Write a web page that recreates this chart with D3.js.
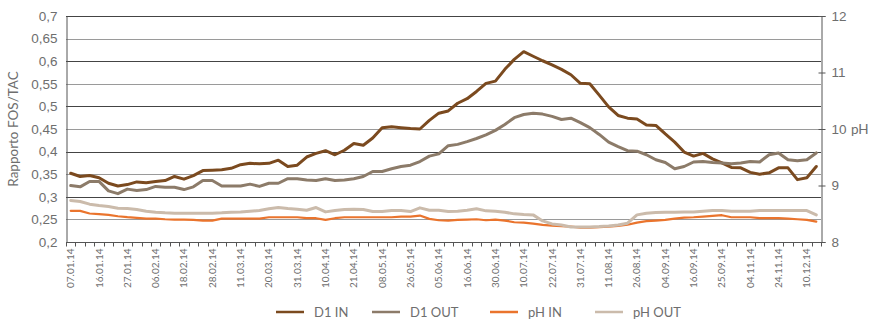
<!DOCTYPE html>
<html>
<head>
<meta charset="utf-8">
<script src="https://cdn.jsdelivr.net/npm/d3@7"></script>
<style>
  html, body { margin: 0; padding: 0; background: #ffffff; }
  svg { display: block; font-family: Lato, "Open Sans", sans-serif; }
</style>
</head>
<body>
<svg id="chart" width="869" height="320"></svg>
<script>
// Sampling dates shown on the category axis (one label every third sample)
const tickLabels = [
  "07.01.14", "16.01.14", "27.01.14", "06.02.14", "18.02.14", "28.02.14",
  "11.03.14", "20.03.14", "31.03.14", "10.04.14", "21.04.14", "08.05.14",
  "26.05.14", "05.06.14", "16.06.14", "30.06.14", "10.07.14", "22.07.14",
  "31.07.14", "11.08.14", "26.08.14", "04.09.14", "16.09.14", "25.09.14",
  "04.11.14", "24.11.14", "10.12.14"
];
const labelEvery = 3;

// FOS/TAC ratio, digester 1 inlet
const d1In = [
  0.352, 0.345, 0.347, 0.342, 0.330, 0.324, 0.327, 0.333, 0.331, 0.334,
  0.336, 0.345, 0.339, 0.347, 0.358, 0.359, 0.360, 0.363, 0.371, 0.374,
  0.373, 0.374, 0.381, 0.367, 0.370, 0.388, 0.396, 0.402, 0.393, 0.403,
  0.418, 0.414, 0.430, 0.453, 0.455, 0.453, 0.451, 0.450, 0.469, 0.485,
  0.490, 0.507, 0.517, 0.533, 0.551, 0.556, 0.582, 0.604, 0.621, 0.611,
  0.601, 0.592, 0.582, 0.570, 0.551, 0.550, 0.525, 0.499, 0.480, 0.474,
  0.472, 0.459, 0.458, 0.439, 0.421, 0.399, 0.390, 0.396, 0.384, 0.375,
  0.365, 0.364, 0.354, 0.350, 0.353, 0.364, 0.364, 0.338, 0.342, 0.367
];

// FOS/TAC ratio, digester 1 outlet
const d1Out = [
  0.325, 0.322, 0.334, 0.334, 0.313, 0.307, 0.317, 0.314, 0.316, 0.323,
  0.321, 0.321, 0.316, 0.322, 0.336, 0.336, 0.324, 0.324, 0.324, 0.328,
  0.323, 0.330, 0.330, 0.340, 0.340, 0.337, 0.336, 0.340, 0.336, 0.337,
  0.340, 0.345, 0.356, 0.356, 0.362, 0.367, 0.370, 0.378, 0.390, 0.395,
  0.413, 0.416, 0.422, 0.429, 0.437, 0.447, 0.460, 0.475, 0.482, 0.485,
  0.483, 0.478, 0.471, 0.474, 0.464, 0.453, 0.438, 0.421, 0.411, 0.402,
  0.401, 0.393, 0.382, 0.376, 0.362, 0.367, 0.377, 0.378, 0.376, 0.375,
  0.373, 0.375, 0.378, 0.377, 0.393, 0.397, 0.382, 0.380, 0.382, 0.397
];

// pH, inlet
const phIn = [
  8.551, 8.551, 8.504, 8.492, 8.480, 8.456, 8.439, 8.427, 8.415, 8.415,
  8.403, 8.397, 8.397, 8.391, 8.379, 8.379, 8.415, 8.415, 8.415, 8.412,
  8.415, 8.438, 8.438, 8.438, 8.438, 8.421, 8.421, 8.391, 8.421, 8.438,
  8.438, 8.438, 8.438, 8.438, 8.438, 8.450, 8.450, 8.468, 8.409, 8.385,
  8.379, 8.391, 8.397, 8.403, 8.385, 8.397, 8.379, 8.350, 8.344, 8.326,
  8.302, 8.290, 8.279, 8.273, 8.255, 8.255, 8.261, 8.273, 8.284, 8.305,
  8.344, 8.368, 8.379, 8.391, 8.415, 8.433, 8.438, 8.450, 8.462, 8.474,
  8.438, 8.438, 8.438, 8.421, 8.421, 8.421, 8.415, 8.403, 8.391, 8.361
];

// pH, outlet
const phOut = [
  8.735, 8.717, 8.670, 8.646, 8.628, 8.598, 8.593, 8.575, 8.545, 8.527,
  8.516, 8.510, 8.510, 8.510, 8.510, 8.510, 8.516, 8.527, 8.533, 8.545,
  8.557, 8.587, 8.610, 8.593, 8.581, 8.563, 8.610, 8.533, 8.557, 8.575,
  8.581, 8.575, 8.539, 8.539, 8.557, 8.557, 8.539, 8.604, 8.563, 8.560,
  8.539, 8.545, 8.563, 8.587, 8.551, 8.545, 8.527, 8.498, 8.486, 8.480,
  8.373, 8.320, 8.302, 8.267, 8.267, 8.267, 8.273, 8.284, 8.302, 8.332,
  8.480, 8.510, 8.521, 8.527, 8.527, 8.533, 8.533, 8.545, 8.557, 8.557,
  8.545, 8.545, 8.545, 8.557, 8.557, 8.557, 8.557, 8.557, 8.557, 8.480
];

const leftTicks = [0.2, 0.25, 0.3, 0.35, 0.4, 0.45, 0.5, 0.55, 0.6, 0.65, 0.7];
const rightTicks = [8, 9, 10, 11, 12];

const series = [
  { name: "D1 IN",  values: d1In,  axis: "left",  color: "#7b4a1f", width: 3 },
  { name: "D1 OUT", values: d1Out, axis: "left",  color: "#8c7b69", width: 3 },
  { name: "pH IN",  values: phIn,  axis: "right", color: "#ea742d", width: 2.2 },
  { name: "pH OUT", values: phOut, axis: "right", color: "#cbbbab", width: 3 }
];

const svg = d3.select("#chart");
const plot = { left: 66, right: 821, top: 16, bottom: 242 };
const textColor = "#6e6e6e";
const itCommaFmt = v => d3.format(".2~f")(v).replace(".", ",");

const idx = d3.range(d1In.length);
const x = d3.scaleBand().domain(idx).range([plot.left, plot.right]).padding(0);
const cx = i => x(i) + x.bandwidth() / 2;
const yL = d3.scaleLinear().domain([0.2, 0.7]).range([plot.bottom, plot.top]);
const yR = d3.scaleLinear().domain([8, 12]).range([plot.bottom, plot.top]);

// Horizontal gridlines
svg.append("g")
  .selectAll("line")
  .data(leftTicks.slice(1))
  .join("line")
  .attr("x1", plot.left).attr("x2", plot.right)
  .attr("y1", d => Math.round(yL(d)) + 0.5)
  .attr("y2", d => Math.round(yL(d)) + 0.5)
  .attr("stroke", (d, i) => i % 2 === 0 ? "#9a9a9a" : "#444444")
  .attr("stroke-width", 1);

// Left axis
const leftAxis = d3.axisLeft(yL).tickValues(leftTicks).tickSize(0).tickPadding(9)
  .tickFormat(itCommaFmt);
const gL = svg.append("g").attr("transform", `translate(${plot.left + 0.5},0)`).call(leftAxis);
gL.select(".domain").attr("stroke", "#555555");
gL.selectAll("text").attr("fill", textColor).style("font-size", "13.5px");

// Right axis
const rightAxis = d3.axisRight(yR).tickValues(rightTicks).tickSize(4).tickPadding(6)
  .tickFormat(d3.format("d"));
const gR = svg.append("g").attr("transform", `translate(${plot.right + 0.5},0)`).call(rightAxis);
gR.select(".domain").attr("stroke", "#555555");
gR.selectAll(".tick line").attr("stroke", "#555555").attr("x1", -3);
gR.selectAll("text").attr("fill", textColor).style("font-size", "13.5px");

// Bottom category axis
const gB = svg.append("g").attr("transform", `translate(0,${plot.bottom + 0.5})`);
gB.append("line").attr("x1", plot.left).attr("x2", plot.right + 1)
  .attr("stroke", "#555555");
gB.selectAll("line.tick")
  .data(d3.range(idx.length + 1))
  .join("line")
  .attr("class", "tick")
  .attr("x1", d => Math.round(x.step() * d + plot.left) + 0.5)
  .attr("x2", d => Math.round(x.step() * d + plot.left) + 0.5)
  .attr("y1", 0).attr("y2", 4)
  .attr("stroke", "#555555");
gB.selectAll("text")
  .data(tickLabels)
  .join("text")
  .attr("transform", (d, k) => `translate(${cx(k * labelEvery) + 3.5},6) rotate(-90)`)
  .attr("text-anchor", "end")
  .attr("fill", textColor)
  .style("font-size", "10px")
  .text(d => d);

// Axis titles
svg.append("text")
  .attr("transform", `translate(18,${(plot.top + plot.bottom) / 2}) rotate(-90)`)
  .attr("text-anchor", "middle")
  .attr("fill", textColor)
  .style("font-size", "13.5px")
  .text("Rapporto FOS/TAC");
svg.append("text")
  .attr("x", 851).attr("y", yR(10) + 5)
  .attr("fill", textColor)
  .style("font-size", "13.5px")
  .text("pH");

// Series lines
series.forEach(s => {
  const y = s.axis === "left" ? yL : yR;
  const line = d3.line().x((d, i) => cx(i)).y(d => y(d));
  svg.append("path")
    .datum(s.values)
    .attr("d", line)
    .attr("fill", "none")
    .attr("stroke", s.color)
    .attr("stroke-width", s.width)
    .attr("stroke-linejoin", "round")
    .attr("stroke-linecap", "round");
});

// Legend
const legendX = [276, 372, 490, 595];
const legend = svg.append("g").attr("transform", "translate(0,312)");
series.forEach((s, i) => {
  const g = legend.append("g").attr("transform", `translate(${legendX[i]},0)`);
  g.append("line").attr("x1", 0).attr("x2", 28).attr("y1", 0).attr("y2", 0)
    .attr("stroke", s.color).attr("stroke-width", 2.5);
  g.append("text").attr("x", 38).attr("y", 4.5)
    .attr("fill", textColor).style("font-size", "13px").text(s.name);
});
</script>
</body>
</html>
